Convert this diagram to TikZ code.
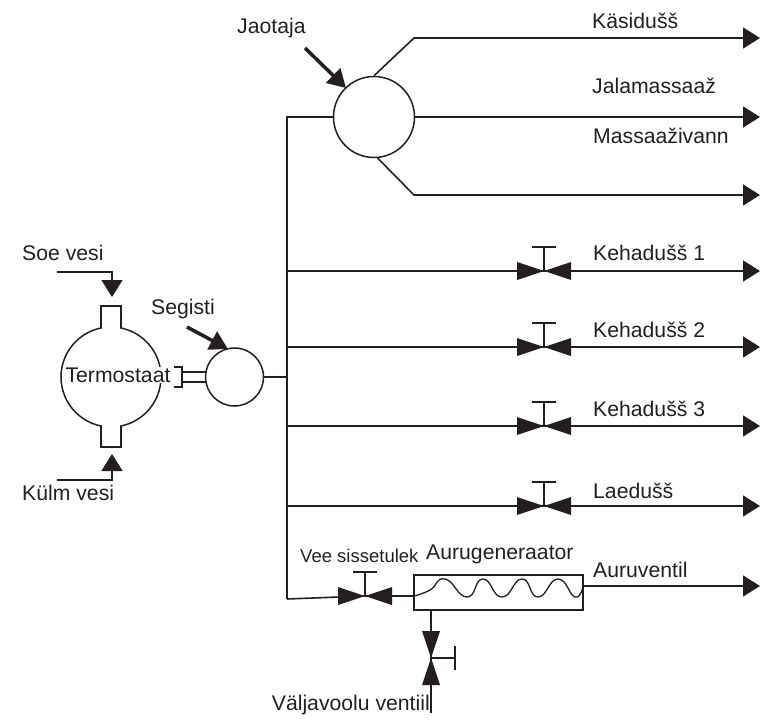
\documentclass[tikz,border=0pt]{standalone}
\usepackage{fontspec}
\setmainfont{Liberation Sans}
\usetikzlibrary{arrows.meta}
\definecolor{inkblack}{HTML}{231F20}
\tikzset{
    pipe/.style={draw=inkblack,line width=1.6pt},
    flow/.style={pipe,-{Triangle[length=17pt,width=21pt]}},
    pointer/.style={draw=inkblack,line width=3.5pt,-{Triangle[length=18pt,width=20pt]}},
    label/.style={text=inkblack,anchor=west,inner sep=0pt,font=\fontsize{21.2}{24}\selectfont},
    round/.style={circle,draw=inkblack,line width=1.5pt,inner sep=0pt},
    valve/.pic={
        \fill[inkblack] (-27,-9) -- (0,0) -- (-27,9) -- cycle;
        \fill[inkblack] (27,-9) -- (0,0) -- (27,9) -- cycle;
        \draw[pipe] (0,0) -- (0,-24);
        \draw[pipe] (-12,-24) -- (12,-24);
    }
}
\begin{document}
\begin{tikzpicture}[x=1pt,y=-1pt]
    \useasboundingbox (0,0) rectangle (774,725);
    % main parts
    \node[round,minimum size=100pt] (termostaat) at (111,377) {};
    \node[round,minimum size=58pt] (segisti) at (234.5,377) {};
    \node[round,minimum size=81pt] (jaotaja) at (374,117) {};
    \node[draw=inkblack,line width=1.5pt,minimum width=169pt,minimum height=35pt,inner sep=0pt] (generaator) at (498.5,592.5) {};
    % stubs on the thermostat
    \fill[white] (102,320) rectangle (120,332);
    \fill[white] (102,422) rectangle (120,434);
    \draw[pipe] (101,328) -- (101,306) -- (121,306) -- (121,328);
    \draw[pipe] (101,426) -- (101,447) -- (121,447) -- (121,426);
    \node[label,anchor=center,fill=white,inner sep=1pt] (termostaatlabel) at (118,375) {Termostaat};
    % bracket to the mixer
    \coordinate (bracketa) at (174,367);
    \coordinate (bracketb) at (182,367);
    \coordinate (bracketc) at (182,387);
    \coordinate (bracketd) at (174,387);
    \draw[pipe] (bracketa) -- (bracketb) -- (bracketc) -- (bracketd);
    \draw[pipe] (182,372) -- (206.5,372);
    \draw[pipe] (182,382) -- (206.5,382);
    % inlets
    \coordinate (soestart) at (57,272);
    \coordinate (soeend) at (112,297);
    \coordinate (kulmstart) at (57,480);
    \coordinate (kulmend) at (112,454);
    \draw[flow] (soestart) -| (soeend);
    \draw[flow] (kulmstart) -| (kulmend);
    % trunk
    \coordinate (trunktop) at (287,117);
    \coordinate (trunkmix) at (287,377);
    \coordinate (trunkend) at (287,599);
    \draw[pipe] (jaotaja.west) -- (trunktop) -- (trunkend);
    \draw[pipe] (segisti.east) -- (trunkmix);
    % outlets of the distributor
    \coordinate (bendup) at (414,38);
    \coordinate (benddown) at (414,195);
    \coordinate (endup) at (760,38);
    \coordinate (endmid) at (760,117);
    \coordinate (enddown) at (760,195);
    \draw[flow] (jaotaja.north) -- (bendup) -- (endup);
    \draw[flow] (jaotaja.east) -- (endmid);
    \draw[flow] (jaotaja.-85) -- (benddown) -- (enddown);
    % branches with valves
    \foreach \name/\ypos in {a/271,b/347,c/426,d/506}{
        \coordinate (trunk\name) at (287,\ypos);
        \coordinate (valve\name) at (544,\ypos);
        \coordinate (end\name) at (760,\ypos);
        \draw[pipe] (trunk\name) -- (valve\name);
        \draw[flow] (valve\name) -- (end\name);
        \pic at (valve\name) {valve};
    }
    % steam generator
    \coordinate (valveinlet) at (365,596);
    \coordinate (coilstart) at (414,596);
    \coordinate (coilend) at (583,586);
    \coordinate (steamend) at (760,586);
    \draw[pipe] (trunkend) -- (valveinlet) -- (coilstart);
    \pic at (valveinlet) {valve};
    \draw[pipe,line width=1.3pt] plot[smooth,tension=0.9] coordinates {(coilstart) (430,590) (445,579) (467,597) (483,579) (502,597) (522,579) (538,597) (558,579) (575,597) (coilend)};
    \draw[flow] (coilend) -- (steamend);
    % drain
    \coordinate (drainstart) at (431,610);
    \coordinate (drainvalve) at (431,658);
    \coordinate (drainend) at (431,713);
    \draw[pipe] (drainstart) -- (drainend);
    \pic[rotate=-90] at (drainvalve) {valve};
    % pointers
    \coordinate (segistifrom) at (187,327);
    \coordinate (segistito) at (228,349);
    \coordinate (jaotajafrom) at (305,48);
    \coordinate (jaotajato) at (346,88);
    \draw[pointer] (segistifrom) -- (segistito);
    \draw[pointer] (jaotajafrom) -- (jaotajato);
    % labels
    \node[label] (soelabel) at (22,253) {Soe vesi};
    \node[label] (kulmlabel) at (22,493) {Külm vesi};
    \node[label] (segistilabel) at (151,309) {Segisti};
    \node[label] (jaotajalabel) at (237,28) {Jaotaja};
    \node[label] (kasidusslabel) at (592,21) {Käsidušš};
    \node[label] (jalamassaazlabel) at (592,86) {Jalamassaaž};
    \node[label] (massaazlabel) at (593,136) {Massaaživann};
    \node[label] (kehaalabel) at (593,253) {Kehadušš 1};
    \node[label] (kehablabel) at (593,330) {Kehadušš 2};
    \node[label] (kehaclabel) at (593,409) {Kehadušš 3};
    \node[label] (laelabel) at (593,491) {Laedušš};
    \node[label] (auruventillabel) at (593,570) {Auruventil};
    \node[label,font=\fontsize{18.5}{22}\selectfont] (veelabel) at (300,556) {Vee sissetulek};
    \node[label] (generaatorlabel) at (426,554) {Aurugeneraator};
    \node[label,anchor=east] (valjavoolulabel) at (430,705) {Väljavoolu ventiil};
\end{tikzpicture}
\end{document}
